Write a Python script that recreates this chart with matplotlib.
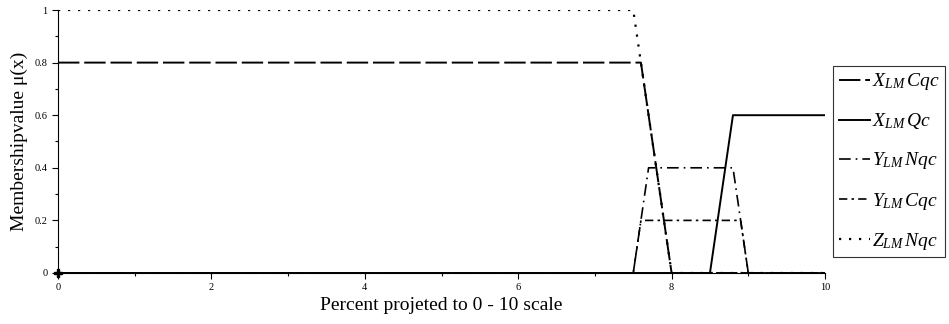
import matplotlib
matplotlib.use("Agg")
import matplotlib.pyplot as plt
from matplotlib.ticker import MultipleLocator

plt.rcParams['font.family'] = ['Liberation Serif', 'DejaVu Serif']
plt.rcParams['mathtext.fontset'] = 'custom'
plt.rcParams['mathtext.rm'] = 'Liberation Serif'
plt.rcParams['mathtext.it'] = 'Liberation Serif:italic'

# membership functions (breakpoints)
x_cqc = [0, 7.6, 8.0, 10]
y_cqc = [0.8, 0.8, 0.0, 0.0]

x_qc = [0, 8.5, 8.8, 10]
y_qc = [0.0, 0.0, 0.6, 0.6]

x_ynqc = [0, 7.5, 7.7, 8.8, 9.0, 10]
y_ynqc = [0.0, 0.0, 0.4, 0.4, 0.0, 0.0]

x_ycqc = [0, 7.5, 7.6, 8.9, 9.0, 10]
y_ycqc = [0.0, 0.0, 0.2, 0.2, 0.0, 0.0]

x_znqc = [0, 7.5, 8.0, 10]
y_znqc = [1.0, 1.0, 0.0, 0.0]

labels = [r'$X_{LM}\,Cqc$', r'$X_{LM}\,Qc$', r'$Y_{LM}\,Nqc$',
          r'$Y_{LM}\,Cqc$', r'$Z_{LM}\,Nqc$']

fig = plt.figure(figsize=(9.49, 3.24), dpi=100)
ax = fig.add_axes([58 / 949, 51 / 324, 767 / 949, 263 / 324])

ax.plot(x_cqc, y_cqc, color='black', lw=1.4, dashes=(11, 2.5), label=labels[0])
ax.plot(x_qc, y_qc, color='black', lw=1.4, label=labels[1])
ax.plot(x_ynqc, y_ynqc, color='black', lw=1.2, dashes=(7, 3, 1, 3), label=labels[2])
ax.plot(x_ycqc, y_ycqc, color='black', lw=1.2, dashes=(5, 2.5, 1.5, 2.5), label=labels[3])
ax.plot(x_znqc, y_znqc, color='black', lw=1.6, dashes=(1, 3.5), label=labels[4])
ax.plot([0], [0], marker='P', color='black', ms=6, clip_on=False)

ax.set_xlim(0, 10)
ax.set_ylim(0, 1)
ax.spines['top'].set_visible(False)
ax.spines['right'].set_visible(False)
ax.xaxis.set_major_locator(MultipleLocator(2))
ax.xaxis.set_minor_locator(MultipleLocator(1))
ax.yaxis.set_minor_locator(MultipleLocator(0.1))
ax.set_yticks([0, 0.2, 0.4, 0.6, 0.8, 1])
ax.set_yticklabels(['0', '0.2', '0.4', '0.6', '0.8', '1'])
ax.tick_params(labelsize=7.5, length=4, width=0.8)
ax.tick_params(which='minor', length=2.5, width=0.8)

ax.set_xlabel('Percent projeted to 0 - 10 scale', fontsize=14, labelpad=3)
ax.set_ylabel('Membershipvalue \u03bc(x)', fontsize=14, labelpad=5)

leg = ax.legend(loc='center left', bbox_to_anchor=(1.01, 0.424), fontsize=14,
                frameon=True, fancybox=False, edgecolor='black',
                handlelength=1.6, handletextpad=0.1, borderpad=0.3,
                labelspacing=0.98, borderaxespad=0)
leg.get_frame().set_linewidth(0.8)

fig.savefig('out.png', dpi=100)
